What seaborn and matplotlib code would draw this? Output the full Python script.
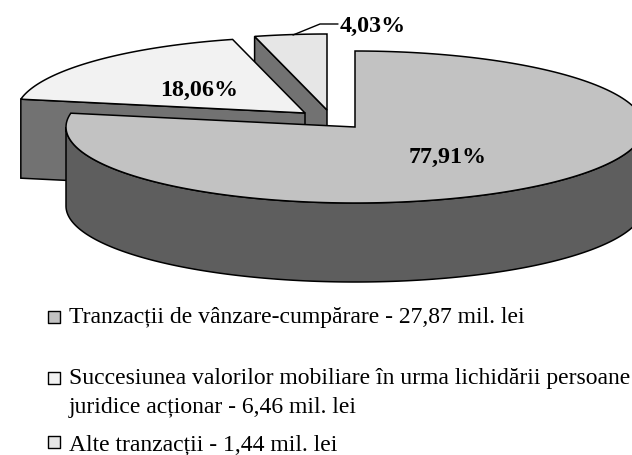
import numpy as np
import pandas as pd
import seaborn as sns
import matplotlib.pyplot as plt
from matplotlib.patches import Polygon

sns.set_style("white")
plt.rcParams['font.family'] = ['Liberation Serif', 'DejaVu Serif']

# date
shares = [77.91, 18.06, 4.03]
share_labels = ["77,91%", "18,06%", "4,03%"]
legend_labels = ["Tranzacții de vânzare-cumpărare - 27,87 mil. lei",
                 "Succesiunea valorilor mobiliare în urma lichidării persoane\njuridice acționar - 6,46 mil. lei",
                 "Alte tranzacții - 1,44 mil. lei"]

top_colors = ["#c2c2c2", "#f2f2f2", "#e6e6e6"]
side_colors = ["#5e5e5e", "#727272", "#727272"]

# geometrie in pixeli
cx, cy = 355, 127
rx, ry = 289, 76
depth = 79
offsets = [(0, 0), (-50, -14), (-28, -17)]
label_pos = [(448, 157), (199, 90), (373, 26)]
legend_pos = [(54, 317), (54, 378), (54, 442)]
legend_text_pos = [(69, 317), (69, 393), (69, 445)]


def arc(t1, t2, dx=0, dy=0):
    t = np.radians(np.linspace(t1, t2, 200))
    return np.column_stack([cx + dx + rx * np.cos(t), cy + dy - ry * np.sin(t)])


angles = 90 - np.cumsum([0] + shares) * 3.6

fig, ax = plt.subplots(figsize=(6.32, 4.55), dpi=100)
ax.set_position([0, 0, 1, 1])
ax.set_xlim(0, 632)
ax.set_ylim(455, 0)
ax.axis("off")

# se deseneaza din spate in fata
for i in [2, 1, 0]:
    t1, t2 = angles[i], angles[i + 1]
    dx, dy = offsets[i]
    apex = np.array([cx + dx, cy + dy])
    top = arc(t1, t2, dx, dy)
    if i == 0:
        # peretele curbat din fata
        front = arc(-180, 0)
        side = np.vstack([front, (front + [0, depth])[::-1]])
    else:
        # peretele drept, pe marginea vizibila a feliei
        edge = top[0]
        side = np.array([edge, apex, apex + [0, depth], edge + [0, depth]])
    ax.add_patch(Polygon(side, closed=True, fc=side_colors[i], ec="black", lw=1.1))
    ax.add_patch(Polygon(np.vstack([apex, top]), closed=True, fc=top_colors[i], ec="black", lw=1.1))

for lab, (x, y) in zip(share_labels, label_pos):
    ax.text(x, y, lab, ha="center", va="center", fontsize=17.3, fontweight="bold", color="black")

# linia pentru 4,03%
ax.plot([293, 320, 338], [35, 24, 24], color="black", lw=1)

# legenda
legend_df = pd.DataFrame({"x": [p[0] for p in legend_pos],
                          "y": [p[1] for p in legend_pos],
                          "name": legend_labels})
sns.scatterplot(data=legend_df, x="x", y="y", hue="name", palette=top_colors, marker="s",
                s=85, edgecolor="black", linewidth=1, legend=False, ax=ax)
ax.set_xlim(0, 632)
ax.set_ylim(455, 0)
ax.axis("off")

for lab, (x, y) in zip(legend_labels, legend_text_pos):
    ax.text(x, y, lab, ha="left", va="center", fontsize=17.05, color="black", linespacing=1.47)

fig.savefig("out.png", dpi=100)
